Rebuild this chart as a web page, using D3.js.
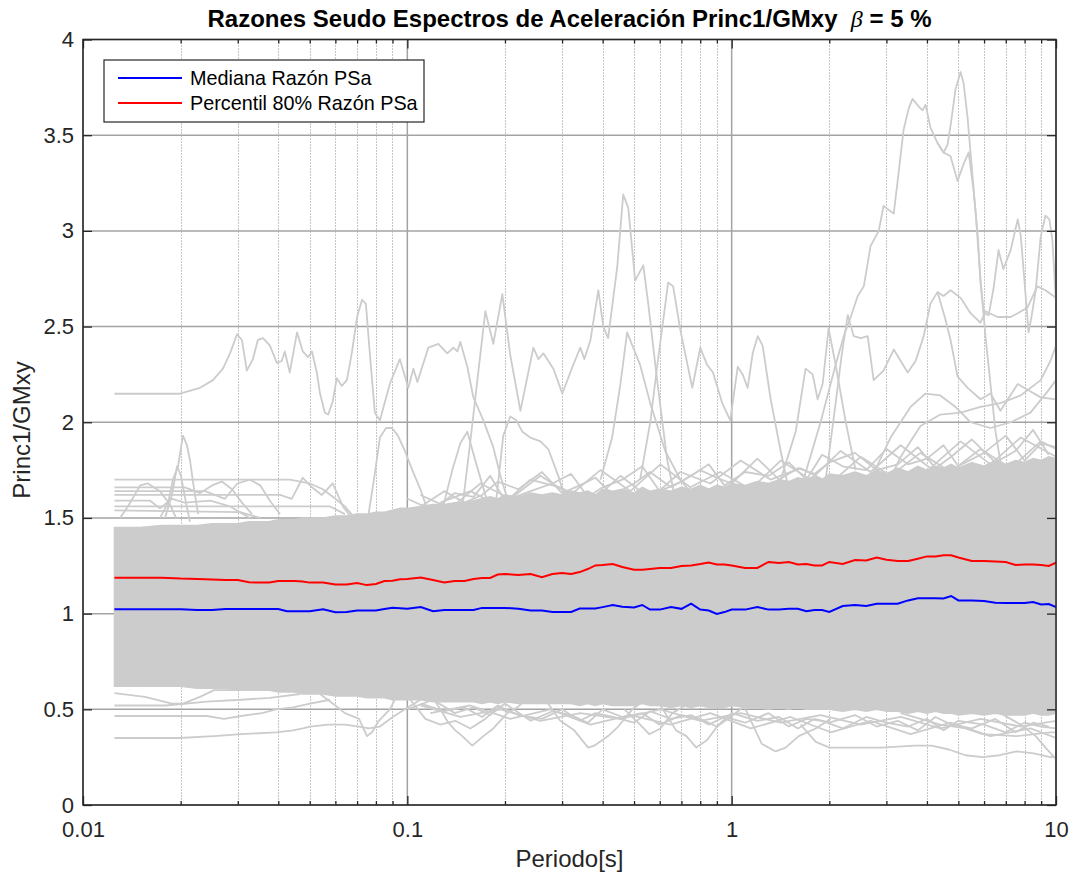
<!DOCTYPE html>
<html>
<head>
<meta charset="utf-8">
<script src="https://cdn.jsdelivr.net/npm/d3@7"></script>
<style>
  body { margin: 0; background: #fff; }
  svg { display: block; font-family: "Liberation Sans", Arial, Helvetica, sans-serif; }
</style>
</head>
<body>
<svg id="chart" width="1073" height="878"></svg>
<script>
// ---------- data ----------
// Spectral periods (s) shared by the summary curves and the dense band
const periods = [0.0125,0.015,0.0175,0.02,0.0225,0.025,0.0275,0.03,0.0325,0.035,
  0.0375,0.04,0.0425,0.045,0.0475,0.05,0.055,0.06,0.065,0.07,
  0.075,0.08,0.085,0.09,0.095,0.1,0.11,0.12,0.13,0.14,
  0.15,0.16,0.17,0.18,0.19,0.2,0.22,0.24,0.26,0.28,
  0.3,0.32,0.34,0.36,0.38,0.4,0.43,0.46,0.5,0.53,
  0.56,0.6,0.65,0.7,0.75,0.8,0.85,0.9,0.95,1.0,
  1.1,1.2,1.3,1.4,1.5,1.6,1.7,1.8,1.9,2.0,
  2.2,2.4,2.6,2.8,3.0,3.25,3.5,3.75,4.0,4.25,
  4.5,4.75,5.0,5.5,6.0,6.5,7.0,7.5,8.0,8.5,
  9.0,9.5,10];

// Median PSa ratio
const medianRatio = [1.023,1.023,1.023,1.023,1.019,1.019,1.024,1.024,1.024,1.024,
  1.024,1.024,1.012,1.012,1.012,1.012,1.023,1.007,1.008,1.016,
  1.016,1.016,1.024,1.031,1.028,1.025,1.034,1.013,1.019,1.019,
  1.019,1.019,1.030,1.030,1.030,1.030,1.025,1.016,1.016,1.009,
  1.009,1.009,1.027,1.027,1.027,1.034,1.045,1.036,1.032,1.045,
  1.021,1.021,1.034,1.025,1.052,1.021,1.016,0.998,1.008,1.021,
  1.021,1.034,1.021,1.021,1.025,1.025,1.012,1.019,1.019,1.009,
  1.040,1.045,1.040,1.052,1.052,1.052,1.069,1.080,1.080,1.080,
  1.079,1.092,1.069,1.069,1.066,1.057,1.055,1.055,1.055,1.061,
  1.048,1.050,1.034];

// 80th percentile PSa ratio
const p80Ratio = [1.188,1.188,1.188,1.183,1.181,1.178,1.176,1.176,1.164,1.162,
  1.163,1.170,1.170,1.170,1.168,1.162,1.162,1.152,1.152,1.160,
  1.149,1.155,1.170,1.172,1.180,1.181,1.189,1.176,1.163,1.170,
  1.170,1.181,1.186,1.186,1.204,1.207,1.202,1.207,1.190,1.207,
  1.212,1.207,1.217,1.233,1.252,1.254,1.259,1.244,1.229,1.229,
  1.233,1.239,1.239,1.249,1.252,1.259,1.267,1.257,1.257,1.251,
  1.239,1.239,1.270,1.264,1.270,1.257,1.259,1.252,1.252,1.270,
  1.259,1.280,1.278,1.293,1.282,1.275,1.275,1.287,1.299,1.299,
  1.305,1.305,1.293,1.275,1.275,1.272,1.270,1.254,1.257,1.257,
  1.254,1.249,1.267];

// Upper and lower edges of the densely overlapping individual records
const bandUpper = [1.45,1.45,1.46,1.46,1.46,1.47,1.47,1.47,1.48,1.48,
  1.48,1.49,1.49,1.49,1.50,1.50,1.50,1.51,1.51,1.52,
  1.52,1.53,1.53,1.54,1.55,1.55,1.56,1.57,1.57,1.58,
  1.58,1.59,1.60,1.61,1.60,1.62,1.61,1.63,1.62,1.63,
  1.62,1.64,1.63,1.64,1.62,1.65,1.64,1.65,1.63,1.66,
  1.64,1.65,1.64,1.66,1.65,1.67,1.65,1.67,1.66,1.68,
  1.67,1.69,1.68,1.70,1.69,1.71,1.70,1.72,1.70,1.73,
  1.72,1.74,1.72,1.75,1.73,1.76,1.74,1.77,1.75,1.77,
  1.76,1.78,1.76,1.79,1.77,1.80,1.78,1.80,1.79,1.81,
  1.80,1.82,1.81];
const bandLower = [0.62,0.62,0.62,0.62,0.61,0.61,0.61,0.60,0.60,0.60,
  0.60,0.59,0.59,0.59,0.58,0.58,0.58,0.57,0.57,0.57,
  0.56,0.56,0.56,0.55,0.55,0.55,0.55,0.54,0.54,0.54,
  0.54,0.54,0.53,0.54,0.53,0.54,0.53,0.53,0.53,0.53,
  0.53,0.53,0.52,0.53,0.52,0.53,0.52,0.52,0.52,0.53,
  0.52,0.52,0.51,0.52,0.51,0.52,0.51,0.51,0.51,0.52,
  0.51,0.51,0.50,0.51,0.50,0.51,0.50,0.50,0.50,0.50,
  0.49,0.50,0.49,0.50,0.49,0.49,0.48,0.49,0.48,0.49,
  0.48,0.48,0.47,0.48,0.47,0.48,0.47,0.47,0.47,0.48,
  0.47,0.47,0.48];

// Period subsets used by the records that fray the band edges
const fringePeriodsA = [0.1,0.12,0.14,0.16,0.18,0.2,0.24,0.28,0.32,0.36,0.4,0.46,0.53,0.6,0.7,0.8,0.9,1.0,1.2,1.4,1.6,1.8,2.0,2.4,2.8,3.25,3.75,4.25,4.75,5.5,6.5,7.5,8.5,9.5];
const fringePeriodsB = [0.11,0.13,0.15,0.17,0.19,0.22,0.26,0.3,0.34,0.38,0.43,0.5,0.56,0.65,0.75,0.85,0.95,1.1,1.3,1.5,1.7,1.9,2.2,2.6,3.0,3.5,4.0,4.5,5.0,6.0,7.0,8.0,9.0,10];
const fringeUpperA = [1.60,1.54,1.63,1.61,1.72,1.59,1.64,1.68,1.73,1.61,1.66,1.70,1.77,1.64,1.69,1.75,1.71,1.68,1.81,1.70,1.76,1.73,1.79,1.84,1.75,1.78,1.87,1.76,1.82,1.91,1.79,1.85,1.96,1.83];
const fringeUpperB = [1.56,1.64,1.58,1.62,1.69,1.65,1.74,1.63,1.67,1.71,1.62,1.68,1.74,1.66,1.72,1.78,1.67,1.74,1.72,1.79,1.70,1.83,1.77,1.75,1.86,1.78,1.81,1.88,1.77,1.84,1.93,1.80,1.89,1.87];
const fringeLowerA = [0.50,0.55,0.48,0.51,0.47,0.53,0.44,0.49,0.47,0.43,0.50,0.46,0.48,0.42,0.47,0.45,0.41,0.48,0.44,0.46,0.40,0.45,0.43,0.47,0.41,0.44,0.39,0.46,0.42,0.40,0.45,0.38,0.43,0.41];
const fringeLowerB = [0.53,0.49,0.51,0.46,0.52,0.47,0.45,0.50,0.44,0.48,0.46,0.43,0.49,0.45,0.47,0.42,0.46,0.43,0.48,0.41,0.45,0.44,0.40,0.46,0.43,0.41,0.45,0.39,0.44,0.42,0.38,0.43,0.41,0.40];

// Individual records standing out above the band: [period, ratio]
const recordsHigh = [
  [[0.0125,2.149],[0.0199,2.149],[0.02295,2.18],[0.02516,2.22],[0.0270,2.28],[0.0284,2.36],[0.02985,2.46],[0.0309,2.43],[0.0320,2.27],[0.03342,2.33],[0.0346,2.43],[0.03588,2.44],[0.0377,2.40],[0.0396,2.31],[0.0410,2.32],[0.0419,2.37],[0.0434,2.26],[0.0457,2.47],[0.0476,2.37],[0.0494,2.34],[0.0508,2.37],[0.0526,2.26],[0.0538,2.15],[0.0557,2.05],[0.0570,2.04],[0.0589,2.11],[0.0606,2.23],[0.0628,2.19],[0.0651,2.22],[0.0674,2.36],[0.0700,2.55],[0.0725,2.64],[0.0745,2.62],[0.0767,2.35],[0.0794,2.05],[0.0823,2.01],[0.0883,2.20],[0.0948,2.33],[0.1007,2.18],[0.1044,2.28],[0.1074,2.21],[0.1161,2.39],[0.1246,2.41],[0.1328,2.36],[0.1386,2.39],[0.1426,2.37],[0.1457,2.42],[0.1531,2.29],[0.1598,2.13],[0.1716,2.01],[0.1841,1.87],[0.1936,1.72],[0.2077,1.55]],
  [[0.1477,1.55],[0.1564,1.90],[0.1644,2.22],[0.174,2.58],[0.1841,2.41],[0.1963,2.67],[0.2077,2.35],[0.2232,2.06],[0.2447,2.39],[0.2535,2.33],[0.2627,2.36],[0.282,2.28],[0.3005,2.15],[0.323,2.29],[0.3414,2.39],[0.3515,2.33],[0.367,2.43],[0.388,2.69],[0.402,2.50],[0.416,2.44],[0.4437,2.81],[0.463,3.19],[0.480,3.12],[0.504,2.74],[0.534,2.82],[0.553,2.62],[0.589,2.22],[0.633,1.80],[0.670,1.60]],
  [[0.522,1.70],[0.561,2.00],[0.589,2.29],[0.637,2.73],[0.660,2.71],[0.695,2.48],[0.756,2.18],[0.800,2.39],[0.840,2.30],[0.876,2.26],[0.935,2.10],[0.99,2.01],[1.044,2.29],[1.081,2.25],[1.12,2.18],[1.161,2.36],[1.203,2.45],[1.246,2.40],[1.319,2.12],[1.416,1.85],[1.52,1.60]],
  [[0.394,1.70],[0.428,1.92],[0.454,2.20],[0.476,2.47],[0.522,2.30],[0.561,2.10],[0.624,1.85],[0.695,1.70],[0.773,1.60]],
  [[1.632,1.65],[1.88,2.00],[2.092,2.30],[2.216,2.45],[2.328,2.55],[2.447,2.66],[2.555,2.71],[2.68,2.92],[2.84,3.00],[2.94,3.13],[3.16,3.09],[3.27,3.30],[3.39,3.53],[3.515,3.64],[3.61,3.69],[3.77,3.65],[3.88,3.63],[3.96,3.66],[4.10,3.54],[4.31,3.46],[4.50,3.41],[4.73,3.39],[4.97,3.26],[5.19,3.35],[5.38,3.41],[5.57,3.21],[5.74,2.97],[5.85,2.73],[5.99,2.57],[6.20,2.56],[6.42,2.70],[6.65,2.90],[6.88,2.80],[7.25,2.90],[7.62,3.06],[7.78,2.98],[7.94,2.80],[8.23,2.47],[8.40,2.55],[8.66,2.69],[8.97,2.97],[9.28,3.08],[9.54,3.06],[9.75,2.95],[10,2.62]],
  [[4.31,3.46],[4.50,3.41],[4.63,3.45],[4.73,3.55],[4.90,3.74],[5.08,3.83],[5.19,3.77],[5.34,3.59],[5.45,3.41],[5.65,3.10],[5.85,2.75],[6.06,2.45],[6.28,2.20],[6.51,1.95],[6.88,1.70],[7.35,1.50]],
  [[1.949,1.70],[2.092,2.10],[2.183,2.35],[2.28,2.56],[2.378,2.45],[2.50,2.44],[2.627,2.45],[2.74,2.22],[2.94,2.27],[3.16,2.38],[3.49,2.26],[3.69,2.32],[3.91,2.45],[4.10,2.62],[4.31,2.68],[4.50,2.66],[4.73,2.69],[5.08,2.65],[5.45,2.57],[5.85,2.52],[6.06,2.58],[6.6,2.55],[7.25,2.55],[7.62,2.57],[8.17,2.60],[8.76,2.71],[9.28,2.69],[10,2.65]],
  [[4.31,2.68],[4.54,2.55],[4.73,2.43],[4.97,2.24],[5.34,2.18],[5.85,2.12],[6.28,2.15],[6.74,2.06],[7.62,2.20],[8.17,2.17],[8.97,2.13],[10,2.12]],
  [[2.88,1.60],[3.32,1.82],[3.82,1.98],[4.40,2.04],[5.08,2.05],[5.85,2.08],[6.74,2.10],[7.78,2.14],[8.97,2.22],[9.61,2.32],[10,2.40]],
  [[2.68,1.70],[3.09,1.92],[3.56,2.08],[3.96,2.15],[4.40,2.14],[4.90,2.08],[5.45,2.00],[6.28,1.97],[7.25,2.00],[8.34,2.05],[9.41,2.16],[10,2.22]],
  [[1.416,1.70],[1.575,1.95],[1.69,2.28],[1.777,2.25],[1.841,2.12],[1.908,2.20],[1.99,2.49],[2.092,2.30],[2.248,2.00],[2.41,1.75]]
];

// Records with flat short-period plateaus and local peaks above the band
const recordsMid = [
  [[0.0125,1.70],[0.0434,1.70],[0.0467,1.69],[0.0501,1.68],[0.0549,1.65],[0.060,1.60],[0.0642,1.56],[0.0688,1.50]],
  [[0.0125,1.66],[0.0206,1.66],[0.02295,1.63],[0.0250,1.67],[0.0268,1.69],[0.0288,1.65],[0.0309,1.58],[0.0332,1.52]],
  [[0.0125,1.64],[0.0238,1.64],[0.0274,1.60],[0.0299,1.68],[0.0327,1.70],[0.0352,1.67],[0.0377,1.59],[0.0405,1.52]],
  [[0.0125,1.62],[0.0405,1.62],[0.0440,1.60],[0.0476,1.71],[0.0508,1.66],[0.0545,1.62],[0.0589,1.68],[0.0633,1.56],[0.0674,1.50]],
  [[0.0125,1.59],[0.0161,1.59],[0.01727,1.55],[0.0188,1.60],[0.0206,1.58],[0.0247,1.59],[0.0284,1.56],[0.0327,1.50]],
  [[0.0125,1.56],[0.0578,1.56],[0.0642,1.52]],
  [[0.0125,1.54],[0.0305,1.53],[0.0352,1.50]],
  [[0.0130,1.50],[0.01376,1.56],[0.0150,1.67],[0.01586,1.68],[0.01727,1.64],[0.01855,1.57],[0.01936,1.50]],
  [[0.01727,1.50],[0.0183,1.58],[0.01894,1.70],[0.01963,1.77],[0.02034,1.93],[0.02092,1.88],[0.02138,1.80],[0.0220,1.65],[0.02264,1.52]],
  [[0.0179,1.50],[0.0188,1.62],[0.0195,1.77],[0.02005,1.72],[0.02077,1.58],[0.02138,1.48]],
  [[0.0756,1.50],[0.0789,1.70],[0.0823,1.92],[0.0860,1.97],[0.0897,1.97],[0.0935,1.93],[0.0983,1.85],[0.1036,1.75],[0.1097,1.65],[0.1177,1.50]],
  [[0.1264,1.50],[0.1376,1.75],[0.1457,1.89],[0.1531,1.95],[0.162,1.80],[0.174,1.62],[0.1868,1.50]],
  [[0.1868,1.55],[0.1976,1.93],[0.2077,2.03],[0.2168,2.01],[0.2264,1.95],[0.2395,1.92],[0.2572,1.90],[0.272,1.86],[0.292,1.72],[0.3135,1.55]],
  [[0.1097,1.62],[0.1357,1.55],[0.168,1.68],[0.2077,1.60],[0.2572,1.72],[0.318,1.62],[0.394,1.75],[0.487,1.64],[0.603,1.78],[0.745,1.66],[0.922,1.74],[1.145,1.65],[1.416,1.80],[1.753,1.70],[2.168,1.85],[2.68,1.74],[3.32,1.88],[4.10,1.76],[5.08,1.90],[6.28,1.78],[7.78,1.92],[10,1.82]],
  [[0.1264,1.58],[0.1564,1.64],[0.1936,1.56],[0.2395,1.70],[0.296,1.66],[0.367,1.58],[0.454,1.72],[0.561,1.60],[0.695,1.74],[0.860,1.68],[1.066,1.80],[1.319,1.70],[1.632,1.76],[2.02,1.68],[2.50,1.82],[3.09,1.72],[3.82,1.84],[4.73,1.74],[5.85,1.86],[7.25,1.76],[8.97,1.90],[10,1.86]]
];

// Records falling below the band
const recordsLow = [
  [[0.0125,0.35],[0.01976,0.35],[0.02535,0.36],[0.0307,0.37],[0.0394,0.38],[0.0444,0.39],[0.0476,0.40],[0.0501,0.41],[0.0570,0.42],[0.0642,0.42],[0.0710,0.41],[0.0760,0.40],[0.0823,0.41],[0.0902,0.46],[0.0983,0.50],[0.1097,0.55]],
  [[0.0125,0.465],[0.0241,0.465],[0.0272,0.45],[0.0307,0.465],[0.0356,0.48],[0.0394,0.50],[0.0444,0.51],[0.0501,0.53],[0.0578,0.55]],
  [[0.0125,0.52],[0.0180,0.52],[0.0241,0.54],[0.0307,0.55],[0.0377,0.56],[0.0467,0.58]],
  [[0.0125,0.585],[0.01553,0.565],[0.0188,0.53],[0.02034,0.53],[0.02295,0.565],[0.02535,0.60],[0.0305,0.60]],
  [[0.0538,0.58],[0.0600,0.52],[0.0642,0.48],[0.0710,0.45],[0.0751,0.36],[0.0778,0.38],[0.0817,0.44],[0.0883,0.50],[0.0928,0.57]],
  [[0.1177,0.58],[0.1264,0.50],[0.1338,0.43],[0.1406,0.39],[0.1477,0.36],[0.1586,0.31],[0.1716,0.36],[0.1841,0.40],[0.2034,0.48],[0.2183,0.51],[0.2395,0.57]],
  [[0.1021,0.55],[0.1137,0.45],[0.1264,0.42],[0.1406,0.44],[0.1564,0.40],[0.174,0.45],[0.1936,0.52]],
  [[0.2665,0.55],[0.296,0.44],[0.327,0.39],[0.361,0.30],[0.377,0.31],[0.416,0.36],[0.447,0.41],[0.494,0.50],[0.542,0.55]],
  [[0.603,0.52],[0.674,0.39],[0.725,0.36],[0.778,0.30],[0.840,0.34],[0.902,0.41],[0.990,0.46],[1.104,0.52]],
  [[1.104,0.50],[1.238,0.32],[1.366,0.28],[1.467,0.30],[1.61,0.36],[1.817,0.40],[2.02,0.45]],
  [[1.632,0.42],[1.817,0.33],[2.005,0.30],[2.264,0.30],[2.88,0.30],[3.67,0.31],[4.134,0.31],[4.67,0.29],[5.26,0.26],[5.94,0.25],[6.70,0.26],[7.56,0.28],[8.53,0.27],[9.61,0.25],[10,0.25]],
  [[3.32,0.48],[4.40,0.42],[5.26,0.40],[5.94,0.37],[7.56,0.36],[9.61,0.38],[10,0.38]],
  [[6.74,0.48],[7.78,0.42],[8.66,0.36],[9.28,0.30],[10,0.24]],
  [[0.467,0.50],[0.522,0.42],[0.557,0.37],[0.603,0.40],[0.656,0.48],[0.720,0.52]],
  [[0.1097,0.52],[0.1457,0.46],[0.1936,0.50],[0.2572,0.44],[0.3414,0.48],[0.454,0.45],[0.603,0.50],[0.800,0.44],[1.066,0.48],[1.416,0.43],[1.88,0.47],[2.50,0.42],[3.32,0.46],[4.40,0.40],[5.85,0.45],[7.78,0.41],[10,0.44]],
  [[0.1177,0.48],[0.1564,0.52],[0.2077,0.45],[0.276,0.50],[0.367,0.42],[0.487,0.47],[0.647,0.42],[0.860,0.48],[1.145,0.40],[1.52,0.46],[2.02,0.38],[2.68,0.44],[3.56,0.37],[4.73,0.43],[6.28,0.36],[8.34,0.40],[10,0.35]]
];

// Axis ticks and labels
const xTicks = [0.01, 0.1, 1, 10];
const xTickLabels = ["0.01", "0.1", "1", "10"];
const yTicks = [0, 0.5, 1, 1.5, 2, 2.5, 3, 3.5, 4];
const yTickLabels = ["0", "0.5", "1", "1.5", "2", "2.5", "3", "3.5", "4"];
const legendLabels = ["Mediana Razón PSa", "Percentil 80% Razón PSa"];
const seriesColors = ["#0000ff", "#ff0000"];

// ---------- layout ----------
const W = 1073, H = 878;
const plot = { left: 83, right: 1056, top: 39.5, bottom: 805 };
const cloudGray = "#cccccc";
const axisColor = "#262626";
const tickFont = 22, labelFont = 24;

const x = d3.scaleLog().domain([0.01, 10]).range([plot.left, plot.right]);
const y = d3.scaleLinear().domain([0, 4]).range([plot.bottom, plot.top]);

const svg = d3.select("#chart");
svg.append("rect").attr("width", W).attr("height", H).attr("fill", "#fff");

svg.append("clipPath").attr("id", "plotClip")
  .append("rect")
  .attr("x", plot.left).attr("y", plot.top)
  .attr("width", plot.right - plot.left).attr("height", plot.bottom - plot.top);

// ---------- grid ----------
const xMinor = x.ticks().filter(t => !xTicks.some(m => Math.abs(t / m - 1) < 1e-6));
const grid = svg.append("g");
grid.selectAll(".minor").data(xMinor).join("line")
  .attr("x1", d => Math.round(x(d)) + 0.5).attr("x2", d => Math.round(x(d)) + 0.5)
  .attr("y1", plot.top).attr("y2", plot.bottom)
  .attr("stroke", "#8c8c8c").attr("stroke-width", 1)
  .attr("stroke-dasharray", "1,2");
grid.selectAll(".majorx").data(xTicks).join("line")
  .attr("x1", d => x(d)).attr("x2", d => x(d))
  .attr("y1", plot.top).attr("y2", plot.bottom)
  .attr("stroke", "#a3a3a3").attr("stroke-width", 1.5);
grid.selectAll(".majory").data(yTicks).join("line")
  .attr("x1", plot.left).attr("x2", plot.right)
  .attr("y1", d => y(d)).attr("y2", d => y(d))
  .attr("stroke", "#a3a3a3").attr("stroke-width", 1.5);

// ---------- records ----------
const data = svg.append("g").attr("clip-path", "url(#plotClip)");

const band = periods.map((T, i) => ({ T, lo: bandLower[i], hi: bandUpper[i] }));
data.append("path")
  .datum(band)
  .attr("d", d3.area().x(d => x(d.T)).y0(d => y(d.lo)).y1(d => y(d.hi)))
  .attr("fill", cloudGray)
  .attr("stroke", cloudGray).attr("stroke-width", 1.5);

const fringe = [
  fringePeriodsA.map((T, i) => [T, fringeUpperA[i]]),
  fringePeriodsB.map((T, i) => [T, fringeUpperB[i]]),
  fringePeriodsA.map((T, i) => [T, fringeLowerA[i]]),
  fringePeriodsB.map((T, i) => [T, fringeLowerB[i]])
];

const recLine = d3.line().x(d => x(d[0])).y(d => y(d[1]));
[fringe, recordsLow, recordsMid, recordsHigh].forEach(group => {
  data.append("g").selectAll("path").data(group).join("path")
    .attr("d", recLine)
    .attr("fill", "none")
    .attr("stroke", cloudGray)
    .attr("stroke-width", 1.8)
    .attr("stroke-linejoin", "round");
});

// summary curves
const sumLine = d3.line().x((d, i) => x(periods[i])).y(d => y(d));
data.append("path").datum(medianRatio).attr("d", sumLine)
  .attr("fill", "none").attr("stroke", seriesColors[0]).attr("stroke-width", 2);
data.append("path").datum(p80Ratio).attr("d", sumLine)
  .attr("fill", "none").attr("stroke", seriesColors[1]).attr("stroke-width", 2);

// ---------- axes ----------
function styleAxis(g) {
  g.select(".domain").remove();
  g.selectAll(".tick line").attr("stroke", axisColor).attr("stroke-width", 1.3);
  g.selectAll("text").attr("fill", axisColor).attr("font-size", tickFont)
    .attr("font-family", "'Liberation Sans', Arial, sans-serif");
}

svg.append("g").attr("transform", `translate(0,${plot.bottom})`)
  .call(d3.axisBottom(x).tickValues(xTicks).tickFormat((d, i) => xTickLabels[i]).tickSize(-9).tickPadding(16))
  .call(styleAxis);
svg.append("g").attr("transform", `translate(0,${plot.bottom})`)
  .call(d3.axisBottom(x).tickValues(xMinor).tickFormat("").tickSize(-4))
  .call(styleAxis);
svg.append("g").attr("transform", `translate(0,${plot.top})`)
  .call(d3.axisTop(x).tickValues(xTicks).tickFormat("").tickSize(-9))
  .call(styleAxis);
svg.append("g").attr("transform", `translate(0,${plot.top})`)
  .call(d3.axisTop(x).tickValues(xMinor).tickFormat("").tickSize(-4))
  .call(styleAxis);
svg.append("g").attr("transform", `translate(${plot.left},0)`)
  .call(d3.axisLeft(y).tickValues(yTicks).tickFormat((d, i) => yTickLabels[i]).tickSize(-9).tickPadding(9))
  .call(styleAxis);
svg.append("g").attr("transform", `translate(${plot.right},0)`)
  .call(d3.axisRight(y).tickValues(yTicks).tickFormat("").tickSize(-9))
  .call(styleAxis);

// axes box
svg.append("rect")
  .attr("x", plot.left).attr("y", plot.top)
  .attr("width", plot.right - plot.left).attr("height", plot.bottom - plot.top)
  .attr("fill", "none").attr("stroke", axisColor).attr("stroke-width", 1.5);

// ---------- labels ----------
const cx = (plot.left + plot.right) / 2;
const title = svg.append("text")
  .attr("x", cx).attr("y", 27)
  .attr("text-anchor", "middle")
  .attr("font-size", labelFont).attr("font-weight", "bold")
  .attr("fill", "#000")
  .style("white-space", "pre");
title.append("tspan").text("Razones Seudo Espectros de Aceleración Princ1/GMxy  ");
title.append("tspan").text("β")
  .attr("font-family", "'Liberation Serif', 'DejaVu Serif', serif")
  .attr("font-style", "italic").attr("font-weight", "normal");
title.append("tspan").text(" = 5 %");

svg.append("text")
  .attr("x", cx).attr("y", 867)
  .attr("text-anchor", "middle")
  .attr("font-size", labelFont).attr("fill", axisColor)
  .text("Periodo[s]");

svg.append("text")
  .attr("transform", `translate(30,430) rotate(-90)`)
  .attr("text-anchor", "middle")
  .attr("font-size", labelFont).attr("fill", axisColor)
  .text("Princ1/GMxy");

// ---------- legend ----------
const legend = svg.append("g");
legend.append("rect")
  .attr("x", 104).attr("y", 60).attr("width", 320).attr("height", 62)
  .attr("fill", "#fff").attr("stroke", axisColor).attr("stroke-width", 1.2);
legendLabels.forEach((lab, i) => {
  const ly = 78 + i * 25;
  legend.append("line")
    .attr("x1", 118).attr("x2", 182).attr("y1", ly).attr("y2", ly)
    .attr("stroke", seriesColors[i]).attr("stroke-width", 2);
  legend.append("text")
    .attr("x", 190).attr("y", ly).attr("dy", "0.35em")
    .attr("font-size", 19.8).attr("fill", "#000")
    .text(lab);
});
</script>
</body>
</html>
